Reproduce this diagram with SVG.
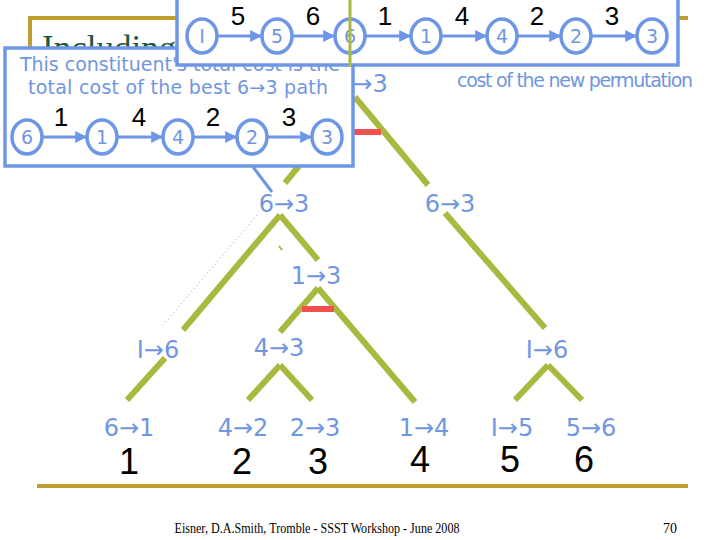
<svg xmlns="http://www.w3.org/2000/svg" width="720" height="540" viewBox="0 0 720 540">
<style>
.tree{stroke:#a9b83e;stroke-width:6;fill:none;stroke-linecap:butt}
.red{stroke:#f05050;stroke-width:6}
.lbl{font-family:"DejaVu Sans",sans-serif;font-size:24px;fill:#7096e0;text-anchor:middle}
.num{font-family:"Liberation Sans",sans-serif;font-size:36px;fill:#000;text-anchor:middle}
.box{fill:#fff;stroke:#6e96e6;stroke-width:3.5}
.nd{fill:#fff;stroke:#6e96e6;stroke-width:3.5}
.ndt{font-family:"DejaVu Sans",sans-serif;font-size:19px;fill:#7096e0;text-anchor:middle}
.ew{font-family:"Liberation Sans",sans-serif;font-size:26px;fill:#000;text-anchor:middle}
.edge{stroke:#6e96e6;stroke-width:3;marker-end:url(#ah)}
.note{font-family:"DejaVu Sans",sans-serif;font-size:19px;fill:#7096e0}
.gold{stroke:#bf9f30;stroke-width:4;fill:none}
</style>
<defs>
<marker id="ah" viewBox="0 0 10 10" refX="9" refY="5" markerWidth="4" markerHeight="4" orient="auto" markerUnits="strokeWidth">
<path d="M0,0 L10,5 L0,10 z" fill="#6e96e6"/>
</marker>
<clipPath id="titleclip"><rect x="0" y="0" width="720" height="47"/></clipPath>
</defs>
<rect width="720" height="540" fill="#fff"/>
<g id="frame">
<path class="gold" d="M30,48 V18 H688"/>
<line class="gold" x1="37" y1="486" x2="688" y2="486"/>
<text x="42" y="60" font-family="Liberation Serif,serif" font-size="35" fill="#1d5a3a" clip-path="url(#titleclip)">Including</text>
</g>
<g id="connectors">
<line class="tree" x1="355" y1="97" x2="285" y2="183"/>
<line class="tree" x1="355" y1="97" x2="428" y2="185"/>
<line class="red" x1="326" y1="132" x2="381" y2="132"/>
<line class="tree" x1="280" y1="215" x2="183" y2="330"/>
<line class="tree" x1="280" y1="215" x2="318" y2="260"/>
<line class="tree" x1="279" y1="246" x2="282" y2="250" style="stroke-width:2"/>
<line x1="257" y1="215" x2="163" y2="325" stroke="#c8c8c8" stroke-width="1.5" stroke-dasharray="1,3"/>
<line class="tree" x1="318" y1="288" x2="280" y2="332"/>
<line class="tree" x1="318" y1="288" x2="415" y2="402"/>
<line class="red" x1="302" y1="309" x2="334" y2="309"/>
<line class="tree" x1="165" y1="358" x2="127" y2="400"/>
<line class="tree" x1="280" y1="365" x2="248" y2="400"/>
<line class="tree" x1="280" y1="365" x2="312" y2="400"/>
<line class="tree" x1="445" y1="213" x2="545" y2="328"/>
<line class="tree" x1="548" y1="365" x2="515" y2="400"/>
<line class="tree" x1="548" y1="365" x2="582" y2="400"/>
</g>
<g id="root"><text class="lbl" x="370" y="92">→3</text></g>
<g id="n63a"><text class="lbl" x="284" y="212">6→3</text></g>
<g id="n63b"><text class="lbl" x="450" y="212">6→3</text></g>
<g id="n13"><text class="lbl" x="316" y="284">1→3</text></g>
<g id="nI6a"><text class="lbl" x="158" y="358">I→6</text></g>
<g id="n43"><text class="lbl" x="279" y="356">4→3</text></g>
<g id="nI6b"><text class="lbl" x="547" y="358">I→6</text></g>
<g id="leaves">
<text class="lbl" x="129" y="436">6→1</text>
<text class="lbl" x="243" y="436">4→2</text>
<text class="lbl" x="315" y="436">2→3</text>
<text class="lbl" x="424" y="436">1→4</text>
<text class="lbl" x="512" y="436">I→5</text>
<text class="lbl" x="591" y="436">5→6</text>
</g>
<g id="words">
<text class="num" x="129" y="474">1</text>
<text class="num" x="242" y="474">2</text>
<text class="num" x="318" y="474">3</text>
<text class="num" x="420" y="472">4</text>
<text class="num" x="510" y="472">5</text>
<text class="num" x="584" y="472">6</text>
</g>
<g id="perm-note"><text class="note" x="457" y="87" font-size="16" textLength="236">cost of the new permutation</text></g>
<g id="callout1">
<rect class="box" x="5" y="48" width="348" height="118"/>
<text class="note" x="20" y="71" textLength="320">This constituent's total cost is the</text>
<text class="note" x="28" y="94" textLength="300">total cost of the best 6→3 path</text>
<line class="edge" x1="42" y1="137" x2="86" y2="137"/>
<line class="edge" x1="117" y1="137" x2="162" y2="137"/>
<line class="edge" x1="193" y1="137" x2="236" y2="137"/>
<line class="edge" x1="267" y1="137" x2="311" y2="137"/>
<ellipse class="nd" cx="27" cy="137" rx="15" ry="17"/><text class="ndt" x="27" y="144">6</text>
<ellipse class="nd" cx="102" cy="137" rx="15" ry="17"/><text class="ndt" x="102" y="144">1</text>
<ellipse class="nd" cx="178" cy="137" rx="15" ry="17"/><text class="ndt" x="178" y="144">4</text>
<ellipse class="nd" cx="252" cy="137" rx="15" ry="17"/><text class="ndt" x="252" y="144">2</text>
<ellipse class="nd" cx="327" cy="137" rx="15" ry="17"/><text class="ndt" x="327" y="144">3</text>
<text class="ew" x="61" y="126">1</text>
<text class="ew" x="139" y="126">4</text>
<text class="ew" x="213" y="126">2</text>
<text class="ew" x="289" y="126">3</text>
<line x1="253" y1="167" x2="272" y2="192" stroke="#6e96e6" stroke-width="3"/>
</g>
<g id="callout2">
<rect class="box" x="177" y="-10" width="501" height="75"/>
<line class="edge" x1="217" y1="36" x2="261" y2="36"/>
<line class="edge" x1="292" y1="36" x2="334" y2="36"/>
<line class="edge" x1="365" y1="36" x2="410" y2="36"/>
<line class="edge" x1="441" y1="36" x2="486" y2="36"/>
<line class="edge" x1="517" y1="36" x2="560" y2="36"/>
<line class="edge" x1="591" y1="36" x2="636" y2="36"/>
<ellipse class="nd" cx="202" cy="36" rx="15" ry="17"/><text class="ndt" x="202" y="43">I</text>
<ellipse class="nd" cx="277" cy="36" rx="15" ry="17"/><text class="ndt" x="277" y="43">5</text>
<ellipse class="nd" cx="350" cy="36" rx="15" ry="17"/><text class="ndt" x="350" y="43">6</text>
<ellipse class="nd" cx="426" cy="36" rx="15" ry="17"/><text class="ndt" x="426" y="43">1</text>
<ellipse class="nd" cx="502" cy="36" rx="15" ry="17"/><text class="ndt" x="502" y="43">4</text>
<ellipse class="nd" cx="576" cy="36" rx="15" ry="17"/><text class="ndt" x="576" y="43">2</text>
<ellipse class="nd" cx="652" cy="36" rx="15" ry="17"/><text class="ndt" x="652" y="43">3</text>
<text class="ew" x="238" y="25">5</text>
<text class="ew" x="313" y="25">6</text>
<text class="ew" x="385" y="25">1</text>
<text class="ew" x="462" y="25">4</text>
<text class="ew" x="537" y="25">2</text>
<text class="ew" x="612" y="25">3</text>
<line x1="350" y1="0" x2="350" y2="67" stroke="#a9b83e" stroke-width="3"/>
</g>
<g id="footer">
<text x="317" y="533" font-family="Liberation Serif,serif" font-size="14" text-anchor="middle" textLength="285" lengthAdjust="spacingAndGlyphs">Eisner, D.A.Smith, Tromble - SSST Workshop - June 2008</text>
<text x="670" y="533" font-family="Liberation Serif,serif" font-size="14" text-anchor="middle">70</text>
</g>
</svg>
